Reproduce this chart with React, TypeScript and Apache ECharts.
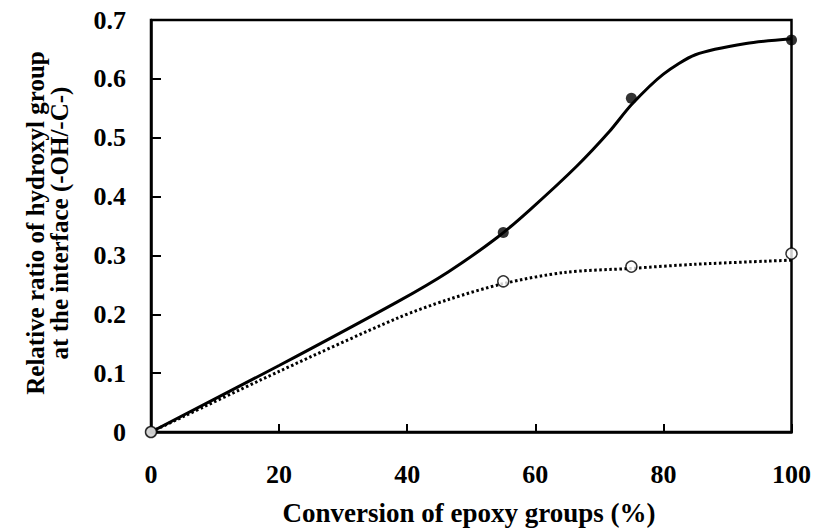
import React, { useEffect, useRef } from "react";
import * as echarts from "echarts";

const xTicks = [0, 20, 40, 60, 80, 100];
const yTicks = [0, 0.1, 0.2, 0.3, 0.4, 0.5, 0.6, 0.7];

// measured points
const filledX = [0, 55, 75, 100];
const filledY = [0, 0.339, 0.567, 0.666];
const openX = [0, 55, 75, 100];
const openY = [0, 0.256, 0.281, 0.303];

// fitted curves
const solidCurveX = [0, 20, 38.6, 46.4, 54, 59.2, 66.5, 71.6, 75, 80, 85, 92.9, 100];
const solidCurveY = [0, 0.113, 0.222, 0.272, 0.33, 0.378, 0.452, 0.511, 0.556, 0.608, 0.641, 0.66, 0.668];
const dottedCurveX = [0, 20, 38.6, 46.4, 55, 64.5, 75, 85, 100];
const dottedCurveY = [0, 0.103, 0.194, 0.225, 0.252, 0.271, 0.278, 0.285, 0.292];

const xTitle = "Conversion of epoxy groups (%)";
const yTitle = "Relative ratio of hydroxyl group\nat the interface (-OH/-C-)";

const FONT = "'Liberation Serif', 'Times New Roman', serif";

export default function App() {
  const ref = useRef<HTMLDivElement>(null);
  useEffect(() => {
    if (!ref.current) return;
    const chart = echarts.init(ref.current, null, { renderer: "svg" });
    const zip = (xs: number[], ys: number[]) => xs.map((x, i) => [x, ys[i]]);
    chart.setOption({
      animation: false,
      backgroundColor: "#fff",
      grid: {
        left: 151,
        top: 20,
        right: 20,
        bottom: 100,
        show: true,
        borderColor: "#000",
        borderWidth: 2.5,
        backgroundColor: "transparent",
      },
      xAxis: {
        type: "value",
        min: 0,
        max: 100,
        interval: 20,
        axisLine: { show: true, onZero: false, lineStyle: { color: "#000", width: 2.5 } },
        axisTick: { show: true, inside: true, length: 8, lineStyle: { color: "#000", width: 2 } },
        splitLine: { show: false },
        axisLabel: {
          margin: 29,
          fontFamily: FONT,
          fontWeight: "bold",
          fontSize: 26,
          color: "#000",
          formatter: (v: number) => (xTicks.includes(v) ? String(v) : ""),
        },
      },
      yAxis: {
        type: "value",
        min: 0,
        max: 0.7,
        interval: 0.1,
        axisLine: { show: true, onZero: false, lineStyle: { color: "#000", width: 2.5 } },
        axisTick: { show: true, inside: true, length: 10, lineStyle: { color: "#000", width: 2 } },
        splitLine: { show: false },
        axisLabel: {
          margin: 25,
          fontFamily: FONT,
          fontWeight: "bold",
          fontSize: 26,
          color: "#000",
          padding: [6, 0, 0, 0],
          formatter: (v: number) => {
            const r = Math.round(v * 10) / 10;
            const t = yTicks.find((y) => Math.abs(y - r) < 1e-9);
            return t === undefined ? "" : t === 0 ? "0" : t.toFixed(1);
          },
        },
      },
      graphic: [
        {
          type: "text",
          x: 469,
          y: 513,
          style: {
            text: xTitle,
            textAlign: "center",
            textVerticalAlign: "middle",
            font: `bold 27px ${FONT}`,
            fill: "#000",
          },
        },
        {
          type: "text",
          x: 47,
          y: 223,
          rotation: Math.PI / 2,
          style: {
            text: yTitle,
            textAlign: "center",
            textVerticalAlign: "middle",
            font: `bold 25px ${FONT}`,
            lineHeight: 24,
            fill: "#000",
          },
        },
      ],
      series: [
        {
          type: "line",
          data: zip(solidCurveX, solidCurveY),
          smooth: 0.25,
          symbol: "none",
          lineStyle: { color: "#000", width: 3 },
          z: 2,
        },
        {
          type: "line",
          data: zip(dottedCurveX, dottedCurveY),
          smooth: 0.3,
          symbol: "none",
          lineStyle: { color: "#000", width: 3, type: [2.5, 2.5] },
          z: 2,
        },
        {
          type: "scatter",
          data: zip(filledX, filledY),
          symbol: "circle",
          symbolSize: 11,
          itemStyle: { color: "#000" },
          z: 5,
        },
        {
          type: "scatter",
          data: zip(openX, openY),
          symbol: "circle",
          symbolSize: 11,
          itemStyle: { color: "#fff", borderColor: "#000", borderWidth: 1.5 },
          z: 5,
        },
      ],
    });
    return () => chart.dispose();
  }, []);
  return <div ref={ref} style={{ width: 814, height: 532, position: "absolute", left: 0, top: 0 }} />;
}
